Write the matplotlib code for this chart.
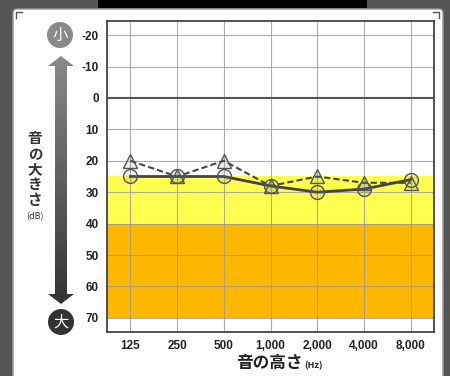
import matplotlib
matplotlib.use("Agg")
import matplotlib.pyplot as plt
import numpy as np
from matplotlib.patches import Rectangle, Circle, Polygon, FancyBboxPatch
from matplotlib.colors import LinearSegmentedColormap

plt.rcParams['font.family'] = ['Noto Sans CJK JP', 'DejaVu Sans']

freqs = ["125", "250", "500", "1,000", "2,000", "4,000", "8,000"]
circle_vals = [25, 25, 25, 28, 30, 29, 26]
triangle_vals = [20, 25, 20, 28, 25, 27, 27]
y_ticks = [-20, -10, 0, 10, 20, 30, 40, 50, 60, 70]

W, H = 450, 376
fig = plt.figure(figsize=(W / 100, H / 100), dpi=100, facecolor="#555555")

# overlay in pixel coords
ov = fig.add_axes([0, 0, 1, 1], zorder=-1)
ov.set_xlim(0, W)
ov.set_ylim(H, 0)
ov.axis("off")
ov.add_patch(Rectangle((98, -2), 269, 10, facecolor="black", edgecolor="none"))
ov.add_patch(FancyBboxPatch((13, 9), 430, 380, boxstyle="round,pad=0,rounding_size=4",
                            facecolor="white", edgecolor="#999999", lw=1))
# corner marks
ov.plot([16, 16, 22], [18, 12, 12], color="#555555", lw=1)
ov.plot([433, 439, 439], [12, 12, 18], color="#555555", lw=1)

# gradient arrow
cx = 61
shaft_w, head_w, head_len = 12, 26, 10
top_apex, bot_apex = 56, 304
poly = [(cx, top_apex), (cx + head_w / 2, top_apex + head_len), (cx + shaft_w / 2, top_apex + head_len),
        (cx + shaft_w / 2, bot_apex - head_len), (cx + head_w / 2, bot_apex - head_len), (cx, bot_apex),
        (cx - head_w / 2, bot_apex - head_len), (cx - shaft_w / 2, bot_apex - head_len),
        (cx - shaft_w / 2, top_apex + head_len), (cx - head_w / 2, top_apex + head_len)]
arrow_patch = Polygon(poly, closed=True, facecolor="none", edgecolor="none")
ov.add_patch(arrow_patch)
grad = np.linspace(0, 1, 256).reshape(-1, 1)
cmap = LinearSegmentedColormap.from_list("g", ["#8a8a8a", "#333333"])
im = ov.imshow(grad, cmap=cmap, extent=(cx - 15, cx + 15, bot_apex, top_apex), aspect="auto",
               origin="upper", zorder=2)
im.set_clip_path(arrow_patch)

ov.add_patch(Circle((60, 35), 13, facecolor="#8a8a8a", edgecolor="none", zorder=3))
ov.text(60, 35.5, "小", color="white", fontsize=11, ha="center", va="center", zorder=4)
ov.add_patch(Circle((61, 322), 13, facecolor="#333333", edgecolor="none", zorder=3))
ov.text(61, 322.5, "大", color="white", fontsize=11, ha="center", va="center", zorder=4)

# vertical label
for i, ch in enumerate("音の大きさ"):
    ov.text(35, 138 + i * 15.5, ch, color="#333333", fontsize=10.5, fontweight="bold",
            ha="center", va="center")
ov.text(35, 217, "(dB)", color="#333333", fontsize=6.5, ha="center", va="center")

# main axes
ax = fig.add_axes([107 / W, 44 / H, 327 / W, 311 / H])
ax.set_facecolor("white")
x = np.arange(len(freqs))
ax.set_xlim(-0.5, len(freqs) - 0.5)
ax.set_ylim(74.5, -24.5)

ax.axhspan(25, 40, color="#ffff50", zorder=0, lw=0)
ax.axhspan(40, 70, color="#ffb800", zorder=0, lw=0)

for xi in x:
    ax.axvline(xi, color="#999999", lw=0.8, alpha=0.8, zorder=1)
for yv in y_ticks:
    if yv == 0:
        ax.axhline(yv, color="#555555", lw=1.5, zorder=1.5)
    else:
        ax.axhline(yv, color="#999999", lw=0.8, alpha=0.8, zorder=1)

ax.plot(x, triangle_vals, color="#444444", lw=1.5, ls=(0, (3, 1.5)), marker="^",
        markersize=10, markerfacecolor=(0.5, 0.5, 0.5, 0.15), markeredgecolor="#555555",
        markeredgewidth=1.0, zorder=3)
ax.plot(x, circle_vals, color="#444444", lw=2, marker="o",
        markersize=10, markerfacecolor=(0.5, 0.5, 0.5, 0.15), markeredgecolor="#555555",
        markeredgewidth=1.0, zorder=4)

ax.set_xticks(x)
ax.set_xticklabels(freqs)
ax.set_yticks(y_ticks)
ax.set_yticklabels([str(v) for v in y_ticks])
ax.tick_params(length=0, labelsize=8.5, colors="#222222", pad=6)
for lab in ax.get_xticklabels() + ax.get_yticklabels():
    lab.set_fontweight("bold")
    lab.set_family(["Liberation Sans", "DejaVu Sans"])
for s in ax.spines.values():
    s.set_color("#444444")
    s.set_linewidth(1.3)

# x label
ov.text(303, 363, "音の高さ", color="#222222", fontsize=12, fontweight="bold",
        ha="right", va="center")
ov.text(304, 366, "(Hz)", color="#222222", fontsize=6.5, fontweight="bold",
        ha="left", va="center")

fig.savefig("out.png", dpi=100, facecolor=fig.get_facecolor())
